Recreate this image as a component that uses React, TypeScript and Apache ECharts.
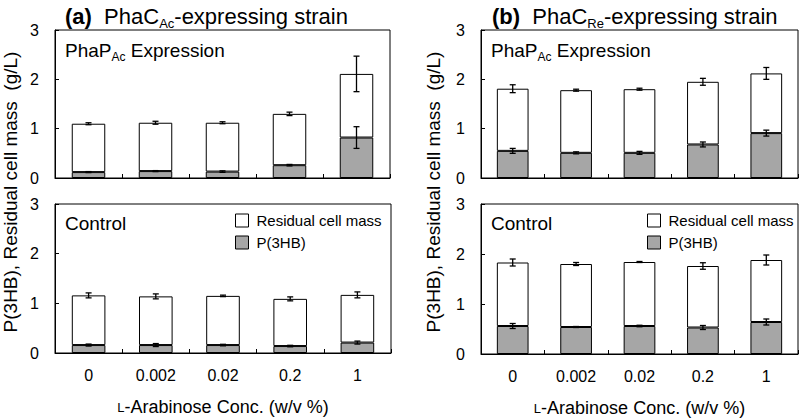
import React, { useEffect, useRef } from "react";
import * as echarts from "echarts";

const categories = ["0", "0.002", "0.02", "0.2", "1"];
const yTicks = [0, 1, 2, 3];

// (a) PhaC_Ac strain, PhaP_Ac expression
const aExpP3hb = [0.12, 0.14, 0.13, 0.26, 0.82];
const aExpP3hbErr = [0.01, 0.01, 0.015, 0.015, 0.22];
const aExpResidual = [0.98, 0.98, 0.99, 1.04, 1.29];
const aExpTotalErr = [0.02, 0.03, 0.02, 0.035, 0.36];
// (a) control
const aCtlP3hb = [0.16, 0.16, 0.16, 0.14, 0.21];
const aCtlP3hbErr = [0.02, 0.03, 0.015, 0.015, 0.03];
const aCtlResidual = [1.0, 0.98, 0.99, 0.95, 0.96];
const aCtlTotalErr = [0.05, 0.05, 0.015, 0.04, 0.06];
// (b) PhaC_Re strain, PhaP_Ac expression
const bExpP3hb = [0.55, 0.51, 0.51, 0.68, 0.91];
const bExpP3hbErr = [0.05, 0.02, 0.03, 0.05, 0.06];
const bExpResidual = [1.26, 1.27, 1.29, 1.27, 1.21];
const bExpTotalErr = [0.08, 0.02, 0.02, 0.07, 0.12];
// (b) control
const bCtlP3hb = [0.56, 0.54, 0.56, 0.53, 0.64];
const bCtlP3hbErr = [0.05, 0.01, 0.015, 0.04, 0.06];
const bCtlResidual = [1.27, 1.26, 1.28, 1.23, 1.24];
const bCtlTotalErr = [0.07, 0.03, 0.01, 0.065, 0.1];

const FONT = "Liberation Sans";
const GRAY = "#a6a6a6";

const grids = [
  { left: 55, top: 30, width: 335, height: 148 },
  { left: 55, top: 204, width: 336, height: 149 },
  { left: 481, top: 30, width: 317, height: 148 },
  { left: 481, top: 204, width: 317, height: 150 },
];

const panels = [
  { p: aExpP3hb, pe: aExpP3hbErr, r: aExpResidual, te: aExpTotalErr },
  { p: aCtlP3hb, pe: aCtlP3hbErr, r: aCtlResidual, te: aCtlTotalErr },
  { p: bExpP3hb, pe: bExpP3hbErr, r: bExpResidual, te: bExpTotalErr },
  { p: bCtlP3hb, pe: bCtlP3hbErr, r: bCtlResidual, te: bCtlTotalErr },
];

function errRender(params: any, api: any) {
  const x = api.value(0);
  const v = api.value(1);
  const e = api.value(2);
  const top = api.coord([x, v + e]);
  const bot = api.coord([x, v - e]);
  const hw = 3;
  const st = { stroke: "#000", lineWidth: 1.3 };
  return {
    type: "group",
    children: [
      { type: "line", shape: { x1: top[0], y1: top[1], x2: bot[0], y2: bot[1] }, style: st },
      { type: "line", shape: { x1: top[0] - hw, y1: top[1], x2: top[0] + hw, y2: top[1] }, style: st },
      { type: "line", shape: { x1: bot[0] - hw, y1: bot[1], x2: bot[0] + hw, y2: bot[1] }, style: st },
    ],
  };
}

export default function App() {
  const ref = useRef<HTMLDivElement>(null);
  useEffect(() => {
    if (!ref.current) return;
    const chart = echarts.init(ref.current, null, { renderer: "svg" });

    const xAxis: any[] = grids.map((g, i) => {
      const bottom = i === 1 || i === 3;
      return {
        type: "category",
        gridIndex: i,
        data: categories,
        boundaryGap: true,
        axisLine: { show: true, lineStyle: { color: "#000", width: 1 } },
        axisTick: { show: true, inside: true, length: 4, lineStyle: { color: "#000" } },
        axisLabel: {
          show: bottom,
          color: "#000",
          fontFamily: FONT,
          fontSize: 16,
          margin: 14,
        },
        name: bottom ? "{sc|L}-Arabinose Conc. (w/v %)" : "",
        nameLocation: "middle",
        nameGap: 45,
        nameTextStyle: {
          color: "#000",
          fontFamily: FONT,
          fontSize: 18,
          rich: { sc: { fontSize: 13, fontFamily: FONT, color: "#000" } },
        },
      };
    });

    const yAxis: any[] = grids.map((g, i) => ({
      type: "value",
      gridIndex: i,
      min: yTicks[0],
      max: yTicks[yTicks.length - 1],
      interval: 1,
      axisLine: { show: true, lineStyle: { color: "#000", width: 1 } },
      axisTick: { show: true, inside: true, length: 4, lineStyle: { color: "#000" } },
      axisLabel: { color: "#000", fontFamily: FONT, fontSize: 16, margin: 16 },
      splitLine: { show: false },
    }));

    const series: any[] = [];
    panels.forEach((pn, i) => {
      series.push({
        name: "P(3HB)",
        type: "bar",
        stack: "s" + i,
        xAxisIndex: i,
        yAxisIndex: i,
        barWidth: "50%",
        data: pn.p,
        itemStyle: { color: GRAY, borderColor: "#000", borderWidth: 1 },
      });
      series.push({
        name: "Residual cell mass",
        type: "bar",
        stack: "s" + i,
        xAxisIndex: i,
        yAxisIndex: i,
        barWidth: "50%",
        data: pn.r,
        itemStyle: { color: "#fff", borderColor: "#000", borderWidth: 1 },
      });
      series.push({
        type: "custom",
        xAxisIndex: i,
        yAxisIndex: i,
        z: 10,
        renderItem: errRender,
        encode: { x: 0, y: 1 },
        data: categories.map((c, k) => [k, pn.p[k], pn.pe[k]]),
      });
      series.push({
        type: "custom",
        xAxisIndex: i,
        yAxisIndex: i,
        z: 10,
        renderItem: errRender,
        encode: { x: 0, y: 1 },
        data: categories.map((c, k) => [k, pn.p[k] + pn.r[k], pn.te[k]]),
      });
    });

    const legendBase = {
      orient: "vertical",
      padding: 0,
      itemWidth: 13,
      itemHeight: 13,
      itemGap: 7,
      icon: "rect",
      selectedMode: false,
      data: ["Residual cell mass", "P(3HB)"],
      itemStyle: { borderColor: "#000", borderWidth: 1 },
      textStyle: { color: "#000", fontFamily: FONT, fontSize: 15, padding: [0, 0, 0, 3] },
    };

    const titleRich = {
      b: { fontSize: 22, fontWeight: "bold", fontFamily: FONT, color: "#000", lineHeight: 26, verticalAlign: "bottom" },
      n: { fontSize: 22, fontWeight: "normal", fontFamily: FONT, color: "#000", lineHeight: 26, verticalAlign: "bottom" },
      s: { fontSize: 13, fontWeight: "normal", fontFamily: FONT, color: "#000", lineHeight: 26, verticalAlign: "bottom", padding: [0, 0, -3, 0] },
    };
    const panelRich = {
      n: { fontSize: 19, fontWeight: "normal", fontFamily: FONT, color: "#000", lineHeight: 22, verticalAlign: "bottom" },
      s: { fontSize: 12, fontWeight: "normal", fontFamily: FONT, color: "#000", lineHeight: 22, verticalAlign: "bottom", padding: [0, 0, -3, 0] },
    };

    chart.setOption({
      animation: false,
      backgroundColor: "#fff",
      grid: grids.map((g) => ({ ...g, show: true, borderColor: "#000", borderWidth: 1, backgroundColor: "transparent" })),
      xAxis,
      yAxis,
      series,
      legend: [
        { ...legendBase, left: 235, top: 213 },
        { ...legendBase, left: 647, top: 213 },
      ],
      title: [
        { left: 65, top: 1, padding: 0, text: "{b|(a)}{n|  PhaC}{s|Ac}{n|-expressing strain}", textStyle: { fontWeight: "normal", rich: titleRich } },
        { left: 492, top: 1, padding: 0, text: "{b|(b)}{n|  PhaC}{s|Re}{n|-expressing strain}", textStyle: { fontWeight: "normal", rich: titleRich } },
        { left: 65, top: 38, padding: 0, text: "{n|PhaP}{s|Ac}{n| Expression}", textStyle: { fontWeight: "normal", rich: panelRich } },
        { left: 491, top: 38, padding: 0, text: "{n|PhaP}{s|Ac}{n| Expression}", textStyle: { fontWeight: "normal", rich: panelRich } },
        { left: 65, top: 211, padding: 0, text: "{n|Control}", textStyle: { fontWeight: "normal", rich: panelRich } },
        { left: 491, top: 211, padding: 0, text: "{n|Control}", textStyle: { fontWeight: "normal", rich: panelRich } },
      ],
      graphic: [
        {
          type: "text",
          x: 10,
          y: 192,
          rotation: Math.PI / 2,
          style: { text: "P(3HB), Residual cell mass  (g/L)", fontFamily: FONT, fontSize: 19, fill: "#000", align: "center", verticalAlign: "middle" },
        },
        {
          type: "text",
          x: 433,
          y: 192,
          rotation: Math.PI / 2,
          style: { text: "P(3HB), Residual cell mass  (g/L)", fontFamily: FONT, fontSize: 19, fill: "#000", align: "center", verticalAlign: "middle" },
        },
      ],
    });
    return () => chart.dispose();
  }, []);
  return <div ref={ref} style={{ position: "fixed", left: 0, top: 0, width: 800, height: 418 }} />;
}
